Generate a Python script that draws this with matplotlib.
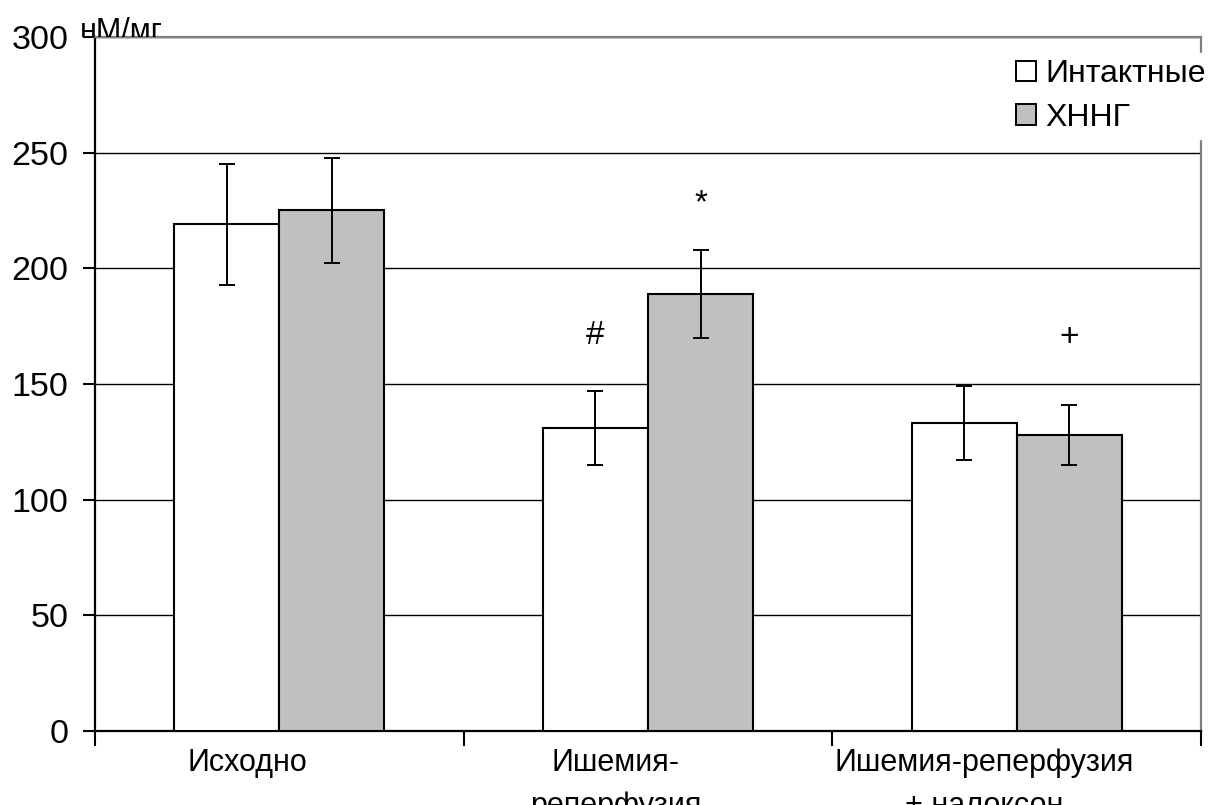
import numpy as np
import matplotlib
matplotlib.use('Agg')
import matplotlib.pyplot as plt
from matplotlib.patches import Patch
from matplotlib.transforms import Bbox, TransformedBbox, ScaledTranslation

plt.rcParams['font.family'] = ['Liberation Sans', 'DejaVu Sans']

# данные
categories = ['Исходно', 'Ишемия-\nреперфузия', 'Ишемия-реперфузия\n+ налоксон']
intact = [219, 131, 133]
intact_err = [26, 16, 16]
hnng = [225, 189, 128]
hnng_err = [22.5, 19, 13]
# значки достоверности: (группа, серия 0=интактные/1=ХННГ, текст, уровень)
sign_group = [1, 1, 2]
sign_series = [0, 1, 1]
sign_text = ['#', '*', '+']
sign_level = [171, 228, 170]

W, H = 1212, 805
fig = plt.figure(figsize=(W / 100, H / 100), dpi=100)
ax = fig.add_axes([95 / W, 1 - 731 / H, (1201 - 95) / W, (731 - 37) / H])

x = np.arange(len(categories))
bw = 0.285
ekw = dict(ecolor='black', elinewidth=1.4, capsize=5.5, capthick=1.4)
ax.bar(x - bw / 2, intact, bw, color='white', edgecolor='black', linewidth=1.5,
       yerr=intact_err, error_kw=ekw, zorder=3, label='Интактные')
ax.bar(x + bw / 2, hnng, bw, color='#c0c0c0', edgecolor='black', linewidth=1.5,
       yerr=hnng_err, error_kw=ekw, zorder=3, label='ХННГ')

for g, s, t, lv in zip(sign_group, sign_series, sign_text, sign_level):
    ax.text(g + (s - 0.5) * bw, lv, t, ha='center', va='center', fontsize=24, zorder=4)

ax.set_xlim(-0.5, 2.5)
ax.set_ylim(0, 300)
ax.set_yticks(np.arange(0, 301, 50))
ax.yaxis.grid(True, color='black', linewidth=1.0)
ax.set_axisbelow(True)
ax.tick_params(axis='y', labelsize=24.5, length=9, width=1.5, pad=10, direction='out')

ax.set_xticks(x)
ax.set_xticklabels(categories, fontsize=22, linespacing=1.6)
ax.set_xticks(np.arange(-0.5, 2.6, 1), minor=True)
ax.tick_params(axis='x', which='major', length=0, pad=12)
ax.tick_params(axis='x', which='minor', length=11, width=1.5, direction='out')
shift = ScaledTranslation(-32 / 100, 0, fig.dpi_scale_trans)
for lb in ax.get_xticklabels():
    lb.set_transform(lb.get_transform() + shift)

for side in ['left', 'bottom']:
    ax.spines[side].set_color('black')
    ax.spines[side].set_linewidth(1.6)
for side in ['top', 'right']:
    ax.spines[side].set_color('#808080')
    ax.spines[side].set_linewidth(1.6)

handles = [Patch(facecolor='white', edgecolor='black', linewidth=1.4),
           Patch(facecolor='#c0c0c0', edgecolor='black', linewidth=1.4)]
leg = fig.legend(handles, ['Интактные', 'ХННГ'], loc='upper right',
                 bbox_to_anchor=(1, 1 - 53 / H), bbox_transform=fig.transFigure,
                 fontsize=23, frameon=True, fancybox=False, framealpha=1,
                 edgecolor='white', facecolor='white', handlelength=0.6,
                 handleheight=0.6, handletextpad=0.3, labelspacing=0.42,
                 borderpad=0.2, borderaxespad=0)

# подпись единиц, нижняя часть скрыта областью графика
t = fig.text(80 / W, 1 - 40 / H, 'нМ/мг', fontsize=22, ha='left', va='baseline')
t.set_clip_box(TransformedBbox(Bbox([[0, 1 - 37 / H], [1, 1]]), fig.transFigure))
t.set_clip_on(True)

fig.savefig('out.png', dpi=100)
